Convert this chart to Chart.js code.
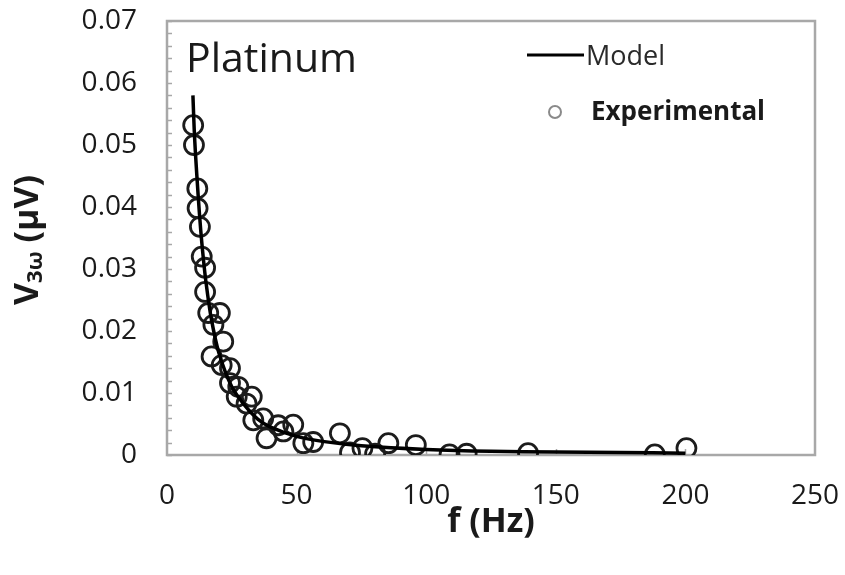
<!DOCTYPE html>
<html>
<head>
<meta charset="utf-8">
<script src="https://cdn.jsdelivr.net/npm/chart.js@4.4.1/dist/chart.umd.min.js"></script>
<style>
  html, body { margin: 0; padding: 0; background: #fff; }
  #wrap { width: 845px; height: 575px; }
</style>
</head>
<body>
<div id="wrap"><canvas id="c" width="845" height="575"></canvas></div>
<script>
// Model curve: third-harmonic voltage vs frequency
const modelFreq = [10, 10.5, 11, 12, 13, 14, 15, 17, 20, 25, 30, 35, 40, 50, 60, 75, 100, 125, 150, 175, 200];
const modelV    = [0.058, 0.0525, 0.0485, 0.0420, 0.0363, 0.0318, 0.0280, 0.0222, 0.0165, 0.0110, 0.0080,
                   0.0058, 0.0045, 0.0030, 0.0022, 0.0015, 0.0009, 0.0006, 0.0005, 0.0004, 0.0003];

// Measured points
const expFreq = [10.1, 10.4, 11.7, 11.8, 12.7, 13.4, 14.7, 14.7, 15.9, 20.4, 17.9, 21.7, 17.2, 21.1, 24.3,
                 24.3, 27.5, 26.9, 32.7, 30.7, 37.1, 33.3, 38.4, 42.9, 44.9, 48.7, 52.6, 56.4, 66.7, 70.6,
                 75.4, 80.3, 85.4, 96, 109, 115.6, 139.3, 188.2, 200.4];
const expV    = [0.0532, 0.0500, 0.0430, 0.0398, 0.0368, 0.0320, 0.0302, 0.0263, 0.0229, 0.0229, 0.0210,
                 0.0183, 0.0159, 0.0145, 0.0140, 0.0116, 0.0110, 0.0094, 0.0094, 0.0083, 0.0059, 0.0056,
                 0.0027, 0.0048, 0.0038, 0.0049, 0.0019, 0.0021, 0.0035, 0.0004, 0.0011, 0.0002, 0.0019,
                 0.0016, 0.0001, 0.0002, 0.0003, 0.0001, 0.0011];

const xTickLabels = ['0', '50', '100', '150', '200', '250'];
const yTickLabels = ['0', '0.01', '0.02', '0.03', '0.04', '0.05', '0.06', '0.07'];

const TEXT = '#1a1a1a';
const FRAME = '#a8a8a8';
const FONT = '"Open Sans", "Noto Sans", sans-serif';

// Plot frame with small inward tick marks
const framePlugin = {
  id: 'frame',
  beforeDatasetsDraw(chart) {
    const { ctx, chartArea: a, scales: { x, y } } = chart;
    ctx.save();
    ctx.strokeStyle = FRAME;
    ctx.lineWidth = 1.5;
    for (let v = 0; v <= 0.0701; v += 0.002) {
      const py = Math.round(y.getPixelForValue(v)) + 0.5;
      ctx.beginPath(); ctx.moveTo(a.left, py); ctx.lineTo(a.left + 5, py); ctx.stroke();
    }
    for (let v = 50; v < 250; v += 50) {
      const px = Math.round(x.getPixelForValue(v)) + 0.5;
      ctx.beginPath(); ctx.moveTo(px, a.bottom); ctx.lineTo(px, a.bottom - 6); ctx.stroke();
    }
    ctx.lineWidth = 2.5;
    ctx.strokeRect(a.left, a.top, a.right - a.left, a.bottom - a.top);
    ctx.restore();
  }
};

// Y-axis title with subscript, legend and sample label
const textPlugin = {
  id: 'texts',
  afterDraw(chart) {
    const { ctx } = chart;
    ctx.save();

    // V_3ω (μV)
    ctx.translate(28, 240);
    ctx.rotate(-Math.PI / 2);
    ctx.fillStyle = TEXT;
    ctx.textBaseline = 'middle';
    ctx.textAlign = 'left';
    const big = 'bold 34px ' + FONT, small = 'bold 22px ' + FONT;
    ctx.font = big; const w1 = ctx.measureText('V').width;
    ctx.font = small; const w2 = ctx.measureText('3ω').width;
    ctx.font = big; const w3 = ctx.measureText(' (μV)').width;
    let sx = -(w1 + w2 + w3) / 2;
    ctx.font = big; ctx.fillText('V', sx, 0); sx += w1;
    ctx.font = small; ctx.fillText('3ω', sx, 8); sx += w2;
    ctx.font = big; ctx.fillText(' (μV)', sx, 0);
    ctx.restore();

    ctx.save();
    ctx.fillStyle = TEXT;
    ctx.textBaseline = 'alphabetic';
    ctx.textAlign = 'left';
    ctx.font = '41px ' + FONT;
    ctx.fillText('Platinum', 186, 72);

    // legend
    ctx.strokeStyle = '#000';
    ctx.lineWidth = 3;
    ctx.beginPath(); ctx.moveTo(527, 55); ctx.lineTo(584, 55); ctx.stroke();
    ctx.fillStyle = '#2a2a2a';
    ctx.font = '27px ' + FONT;
    ctx.fillText('Model', 586, 65);
    ctx.strokeStyle = '#8a8a8a';
    ctx.lineWidth = 2;
    ctx.beginPath(); ctx.arc(555, 112, 6, 0, Math.PI * 2); ctx.stroke();
    ctx.fillStyle = TEXT;
    ctx.font = 'bold 26px ' + FONT;
    ctx.fillText('Experimental', 591, 120);
    ctx.restore();
  }
};

// keep tick labels from shrinking the plot area
function fixBox(size) {
  return (s) => {
    if (s.isHorizontal()) s.height = size; else s.width = size;
    s.paddingTop = 0; s.paddingBottom = 0; s.paddingLeft = 0; s.paddingRight = 0;
  };
}

new Chart(document.getElementById('c'), {
  type: 'scatter',
  data: {
    datasets: [
      {
        label: 'Model',
        data: modelFreq.map((f, i) => ({ x: f, y: modelV[i] })),
        showLine: true,
        borderColor: '#000',
        borderWidth: 3.5,
        pointRadius: 0,
        tension: 0.3,
        fill: false,
        order: 0
      },
      {
        label: 'Experimental',
        data: expFreq.map((f, i) => ({ x: f, y: expV[i] })),
        showLine: false,
        borderColor: '#1c1c1c',
        backgroundColor: 'rgba(0,0,0,0)',
        borderWidth: 2.8,
        pointRadius: 9.5,
        order: 1
      }
    ]
  },
  options: {
    responsive: false,
    animation: false,
    layout: { padding: { left: 0, top: 21, right: 30, bottom: 0 } },
    plugins: { legend: { display: false }, tooltip: { enabled: false } },
    scales: {
      x: {
        type: 'linear',
        min: 0, max: 250,
        afterFit: fixBox(120),
        grid: { display: false, drawTicks: false },
        border: { display: false },
        ticks: {
          stepSize: 50,
          padding: 24,
          maxRotation: 0,
          color: TEXT,
          font: { family: FONT, size: 28 },
          callback: (v, i) => xTickLabels[i]
        },
        title: {
          display: true,
          text: 'f (Hz)',
          color: TEXT,
          font: { family: FONT, size: 34, weight: 'bold' },
          padding: { top: 0, bottom: 32 }
        }
      },
      y: {
        type: 'linear',
        min: 0, max: 0.07,
        afterFit: fixBox(167),
        grid: { display: false, drawTicks: false },
        border: { display: false },
        ticks: {
          stepSize: 0.01,
          padding: 30,
          color: TEXT,
          font: { family: FONT, size: 28 },
          callback: (v, i) => yTickLabels[i]
        }
      }
    }
  },
  plugins: [framePlugin, textPlugin]
});
</script>
</body>
</html>
